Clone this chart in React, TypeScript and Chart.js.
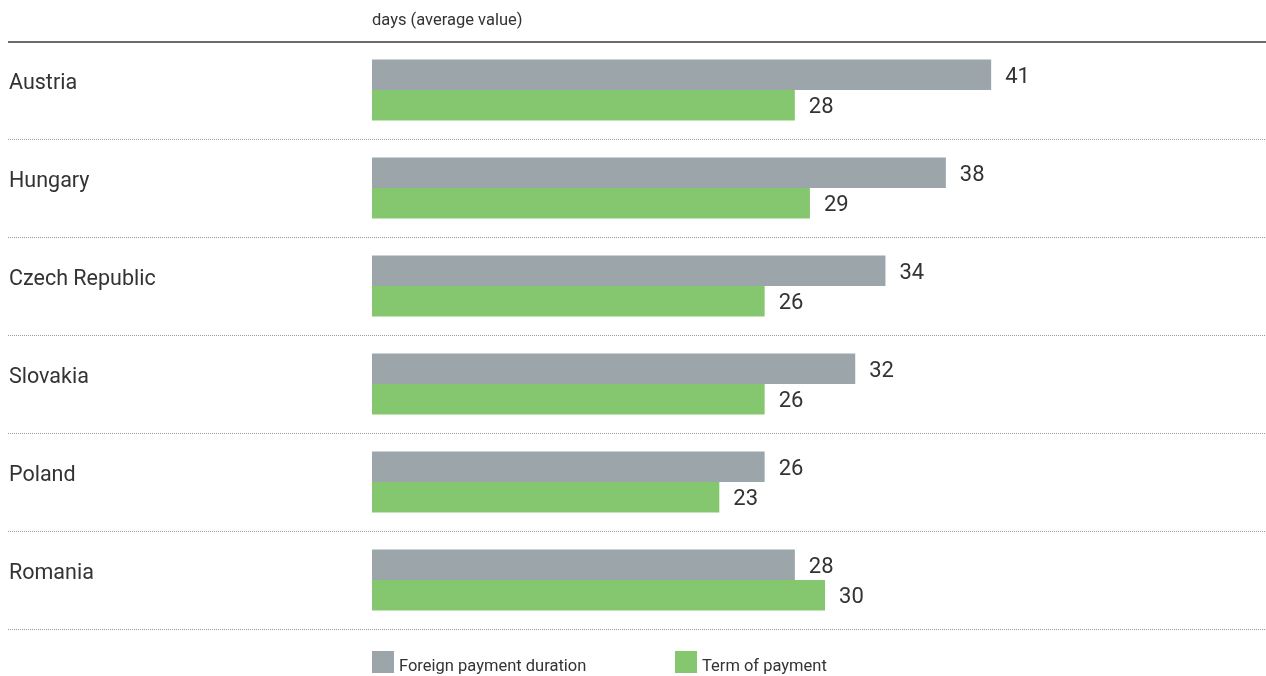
import React, { useEffect, useRef } from "react";
import { Chart, registerables } from "chart.js";

Chart.register(...registerables);

const categories = ["Austria", "Hungary", "Czech Republic", "Slovakia", "Poland", "Romania"];
const foreignPaymentDuration = [41, 38, 34, 32, 26, 28];
const termOfPayment = [28, 29, 26, 26, 23, 30];
const seriesNames = ["Foreign payment duration", "Term of payment"];
const seriesColors = ["#9ba5aa", "#85c76f"];
const axisTitle = "days (average value)";
const xMax = 59.2;

const FONT = "Roboto, 'Open Sans', sans-serif";
const TEXT = "#333333";

const decorPlugin = {
  id: "decor",
  afterDraw(chart: any) {
    const { ctx, chartArea, scales } = chart;
    const y = scales.y;
    const n = categories.length;
    const band = (chartArea.bottom - chartArea.top) / n;
    const W = chart.width;
    ctx.save();

    // title
    ctx.fillStyle = TEXT;
    ctx.font = `16.5px ${FONT}`;
    ctx.textAlign = "left";
    ctx.textBaseline = "middle";
    ctx.fillText(axisTitle, chartArea.left, 21);

    // top solid line
    ctx.strokeStyle = "#3a3a3a";
    ctx.lineWidth = 1.5;
    ctx.beginPath();
    ctx.moveTo(8, chartArea.top + 1);
    ctx.lineTo(W, chartArea.top + 1);
    ctx.stroke();

    // dotted separators and category labels
    ctx.strokeStyle = "#9a9a9a";
    ctx.lineWidth = 1;
    ctx.setLineDash([1, 1]);
    for (let i = 0; i < n; i++) {
      const c = y.getPixelForValue(i);
      const yy = Math.round(c + band / 2) + 0.5;
      ctx.beginPath();
      ctx.moveTo(8, yy);
      ctx.lineTo(W, yy);
      ctx.stroke();
      ctx.fillStyle = TEXT;
      ctx.font = `21.5px ${FONT}`;
      ctx.textBaseline = "middle";
      ctx.fillText(categories[i], 9, c - 6);
    }
    ctx.setLineDash([]);

    // value labels
    ctx.font = `22px ${FONT}`;
    ctx.fillStyle = TEXT;
    ctx.textBaseline = "middle";
    chart.data.datasets.forEach((ds: any, di: number) => {
      const meta = chart.getDatasetMeta(di);
      meta.data.forEach((bar: any, i: number) => {
        ctx.fillText(String(ds.data[i]), bar.x + 14, bar.y + 2.5);
      });
    });

    // legend
    const legendX = [chartArea.left, chartArea.left + 303];
    const boxTop = chartArea.bottom + 22;
    ctx.font = `16.5px ${FONT}`;
    seriesNames.forEach((name, i) => {
      ctx.fillStyle = seriesColors[i];
      ctx.fillRect(legendX[i], boxTop, 22, 22);
      ctx.fillStyle = TEXT;
      ctx.textBaseline = "middle";
      ctx.fillText(name, legendX[i] + 27, boxTop + 16);
    });

    ctx.restore();
  },
};

export default function App() {
  const canvasRef = useRef<HTMLCanvasElement | null>(null);

  useEffect(() => {
    const canvas = canvasRef.current;
    if (!canvas) return;
    const chart = new Chart(canvas, {
      type: "bar",
      data: {
        labels: categories,
        datasets: [
          {
            label: seriesNames[0],
            data: foreignPaymentDuration,
            backgroundColor: seriesColors[0],
            borderWidth: 0,
            barPercentage: 1,
            categoryPercentage: 0.622,
          },
          {
            label: seriesNames[1],
            data: termOfPayment,
            backgroundColor: seriesColors[1],
            borderWidth: 0,
            barPercentage: 1,
            categoryPercentage: 0.622,
          },
        ],
      },
      options: {
        indexAxis: "y",
        animation: false,
        responsive: true,
        maintainAspectRatio: false,
        layout: { padding: { left: 372, top: 41, bottom: 47, right: 0 } },
        plugins: {
          legend: { display: false },
          tooltip: { enabled: false },
          title: { display: false },
        },
        scales: {
          x: { display: false, min: 0, max: xMax },
          y: { display: false },
        },
      },
      plugins: [decorPlugin],
    } as any);
    return () => chart.destroy();
  }, []);

  return (
    <div style={{ position: "fixed", left: 0, top: 0, width: 1266, height: 676, background: "#fff" }}>
      <canvas ref={canvasRef} />
    </div>
  );
}
